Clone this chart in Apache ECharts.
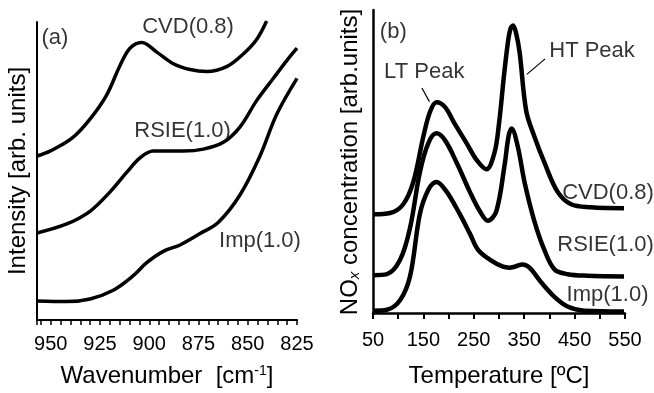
<!DOCTYPE html>
<html>
<head>
<meta charset="utf-8">
<script src="https://cdn.jsdelivr.net/npm/echarts@6/dist/echarts.min.js"></script>
<style>
  html, body { margin: 0; padding: 0; background: #fff; }
  #chart { width: 654px; height: 393px; }
</style>
</head>
<body>
<div id="chart"></div>
<script>
// panel (a): IR spectra, x = wavenumber [cm-1], y = arbitrary intensity
const cvdA = [[957,172],[950.4,177],[939.4,190],[930.1,210],[921.6,235],[914.9,265],[909.8,283],[903.8,289],
  [896.2,279],[887.8,267],[879.3,261],[870.8,259],[860.7,264],[852.3,277],[845.5,292],[840.4,311]];
const rsieA = [[957,92.7],[941.9,102],[930.1,115],[919.9,135],[911.5,155],[904.7,170],[898,177],[882.7,177],
  [872.5,179],[862.4,186],[853.9,202],[845.5,229],[837,252],[830.3,270],[825,283]];
const impA = [[957,22.7],[941.9,22],[930.1,24.7],[918.3,33.7],[908.1,48.7],[901.3,62],[892.9,73.7],[884.4,80.3],
  [874.2,92],[864.9,103.7],[853.9,132],[843.8,172],[835.3,215],[825,252]];

// panel (b): NOx-TPD, x = temperature [C], y = arbitrary concentration
const cvdB = [[51,101.7],[84,103],[110,112],[130,135],[150,182],[163,207],[176,217],[193,212],[212,195],
  [235.6,175],[255,158],[275,148],[291,165],[300,195],[310,245],[318,280],[323,293],[328,296],[334,288],
  [341,268],[354,208],[370,182],[390,155],[416,125],[443,112],[482,109],[548,108]];
const rsieB = [[51,39],[77.6,40],[104,55],[123.6,88],[143,145],[159.8,175],[176,185],[192.7,178],[215.8,155],
  [242,125],[261.8,105],[278,95],[294.8,105],[311,152],[319,182],[325,190],[337,172],[350.6,135],[370,95],
  [390,65],[410,45],[436,40],[475.6,38.4],[548,37.7]];
const impB = [[51,2.4],[77.6,3.4],[104,13.4],[123.6,38],[143,102],[159.8,127],[176,135],[196,125],[222,102],
  [242,82],[258.5,65],[281.6,55],[307.8,47.7],[321,46.7],[331,47.7],[347,50],[360.5,46.7],[383.6,31.7],
  [410,16.7],[436,6.7],[469,2.4],[548,1.7]];

// annotations [x, y, text] in data units
const notesA = [[947.9,294,'(a)'],[880.3,305,'CVD(0.8)'],[883.1,198,'RSIE(1.0)'],[843.8,84,'Imp(1.0)']];
const notesB = [[90.2,289.7,'(b)'],[151.7,248.7,'LT Peak'],[484.6,269.7,'HT Peak'],
  [516.3,123.7,'CVD(0.8)'],[511.4,69.7,'RSIE(1.0)'],[515.3,18.7,'Imp(1.0)']];
const leaders = [[[147,231.7],[162,217.7]],[[391.5,261.7],[355.2,245.7]]];

const FONT = 'Liberation Sans, Arial, Noto Sans CJK JP, sans-serif';

const chart = echarts.init(document.getElementById('chart'));

function curve(data, xi, width) {
  return {
    type: 'line', xAxisIndex: xi, yAxisIndex: xi, data: data,
    showSymbol: false, smooth: 0.35, silent: true,
    lineStyle: { color: '#000', width: width }
  };
}

function notes(list, xi) {
  return {
    type: 'scatter', xAxisIndex: xi, yAxisIndex: xi, symbolSize: 1, silent: true,
    itemStyle: { color: 'rgba(0,0,0,0)' },
    data: list.map(n => ({ value: [n[0], n[1]], name: n[2] })),
    label: { show: true, position: 'inside', formatter: '{b}', color: '#000', fontSize: 22, fontFamily: FONT }
  };
}

chart.setOption({
  animation: false,
  backgroundColor: '#fff',
  textStyle: { fontFamily: FONT, color: '#000' },
  grid: [
    { left: 37, right: 357, top: 22, bottom: 64 },
    { left: 373, right: 29, top: 10, bottom: 70 }
  ],
  xAxis: [
    {
      type: 'value', gridIndex: 0, min: 825, max: 957, interval: 5, inverse: true,
      splitLine: { show: false },
      axisLine: { lineStyle: { color: '#000', width: 2 } },
      axisTick: { show: true, length: 5, lineStyle: { color: '#000', width: 1.5 } },
      axisLabel: {
        interval: 0, margin: 14, fontSize: 20, color: '#000', fontFamily: FONT,
        formatter: v => (v % 25 === 0 ? String(v) : '')
      },
      name: 'Wavenumber  [cm{s|-1}]', nameLocation: 'middle', nameGap: 44,
      nameTextStyle: { fontSize: 24, color: '#000', fontFamily: FONT,
        rich: { s: { fontSize: 14, verticalAlign: 'top', color: '#000', fontFamily: FONT } } }
    },
    {
      type: 'value', gridIndex: 1, min: 50, max: 550, interval: 50,
      splitLine: { show: false },
      axisLine: { lineStyle: { color: '#000', width: 2.5 } },
      axisTick: { show: true, length: 6, lineStyle: { color: '#000', width: 2 } },
      axisLabel: {
        interval: 0, margin: 16, fontSize: 20, color: '#000', fontFamily: FONT,
        formatter: v => ((v - 50) % 100 === 0 ? String(v) : '')
      },
      name: 'Temperature [ºC]', nameLocation: 'middle', nameGap: 50,
      nameTextStyle: { fontSize: 24, color: '#000', fontFamily: FONT }
    }
  ],
  yAxis: [
    {
      type: 'value', gridIndex: 0, min: 3, max: 310,
      splitLine: { show: false }, axisTick: { show: false }, axisLabel: { show: false },
      axisLine: { show: true, lineStyle: { color: '#000', width: 2 } },
      name: 'Intensity [arb. units]', nameLocation: 'middle', nameGap: 7,
      nameTextStyle: { fontSize: 24, color: '#000', fontFamily: FONT }
    },
    {
      type: 'value', gridIndex: 1, min: -1, max: 312,
      splitLine: { show: false }, axisTick: { show: false }, axisLabel: { show: false },
      axisLine: { show: true, lineStyle: { color: '#000', width: 2.5 } },
      name: '{a|NO}{s|x}{a| concentration [arb.units]}', nameLocation: 'middle', nameGap: 11,
      nameTextStyle: { color: '#000', fontFamily: FONT,
        rich: {
          a: { fontSize: 24, color: '#000', fontFamily: FONT },
          s: { fontSize: 15, fontStyle: 'italic', verticalAlign: 'bottom', color: '#000', fontFamily: FONT }
        } }
    }
  ],
  series: [
    curve(cvdA, 0, 3.5), curve(rsieA, 0, 3.5), curve(impA, 0, 3.5),
    Object.assign(curve(cvdB, 1, 4.5), {
      markLine: {
        silent: true, symbol: 'none', label: { show: false },
        lineStyle: { color: '#000', width: 1.2, type: 'solid' },
        data: leaders.map(l => [{ coord: l[0] }, { coord: l[1] }])
      }
    }),
    curve(rsieB, 1, 4.5), curve(impB, 1, 4.5),
    notes(notesA, 0), notes(notesB, 1)
  ]
});
</script>
</body>
</html>
